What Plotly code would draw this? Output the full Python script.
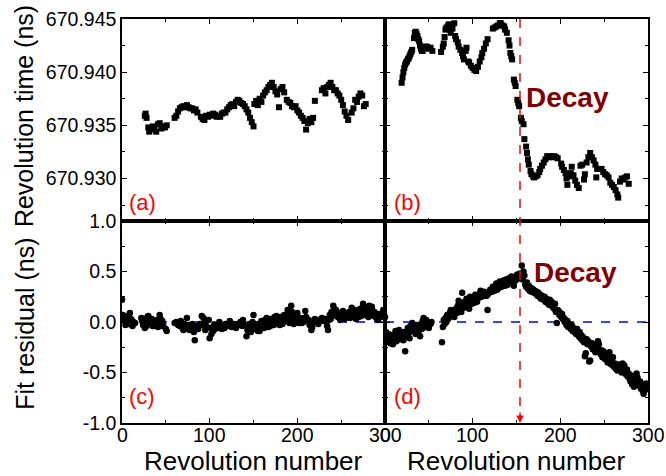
import plotly.graph_objects as go

# ---------------- data ----------------
a_x = [26,27,28,30,31,33,35,37,39,41,43,45,47,49,51,
       60,62,64,66,68,70,72,74,76,78,80,82,84,86,
       90,92,94,96,98,100,102,104,106,108,110,112,114,116,118,120,
       122,124,126,128,130,132,134,136,138,140,142,144,146,148,150,
       151,153,155,157,159,161,163,165,167,169,171,173,175,177,179,181,183,185,
       188,190,192,194,196,198,200,202,204,206,208,210,212,214,216,218,220,
       228,230,232,234,236,238,240,242,244,246,248,250,252,254,256,258,
       262,264,266,268,270,272,274,276,278]
a_y = [670.9359,670.9361,670.9357,670.9348,670.9344,670.9346,670.9349,670.9347,670.9344,670.9351,670.9352,670.9347,670.9349,670.9348,670.9350,
       670.9357,670.9359,670.9363,670.9366,670.9367,670.9368,670.9367,670.9369,670.9367,670.9366,670.9366,670.9364,670.9365,670.9362,
       670.9358,670.9356,670.9355,670.9359,670.9358,670.9360,670.9359,670.9361,670.9360,670.9358,670.9359,670.9358,670.9361,670.9362,670.9362,670.9365,
       670.9367,670.9369,670.9370,670.9368,670.9372,670.9374,670.9373,670.9371,670.9370,670.9368,670.9365,670.9362,670.9357,670.9353,670.9349,
       670.9370,670.9373,670.9369,670.9375,670.9372,670.9378,670.9381,670.9383,670.9386,670.9388,670.9390,670.9386,670.9382,670.9379,670.9367,670.9384,670.9386,670.9381,
       670.9374,670.9372,670.9371,670.9368,670.9367,670.9368,670.9364,670.9362,670.9359,670.9357,670.9354,670.9346,670.9352,670.9356,670.9353,670.9357,670.9373,
       670.9383,670.9385,670.9380,670.9386,670.9388,670.9390,670.9386,670.9383,670.9383,670.9380,670.9378,670.9374,670.9369,670.9363,670.9359,670.9355,
       670.9362,670.9366,670.9374,670.9372,670.9377,670.9380,670.9378,670.9368,670.9370]

b_x = [19,20,21,22,23,24,25,26,27,28,29,30,31,33,34,35,36,37,38,39,40,41,42,43,44,46,48,50,52,54,
       64,66,67,68,69,70,72,73,74,75,77,79,80,81,83,84,86,88,89,90,92,93,95,96,98,100,102,104,106,108,110,111,113,115,117,
       123,125,127,129,131,132,134,136,137,139,141,142,143,144,145,
       147,148,149,151,152,153,155,156,158,159,161,162,163,164,166,167,169,170,172,174,176,177,179,181,183,185,187,189,191,193,195,197,
       201,202,204,206,207,208,210,212,213,215,217,219,221,223,225,227,228,230,232,234,236,238,240,241,242,
       247,249,251,253,255,257,259,261,263,265,266,268,270,272,274,276,278]
b_y = [670.9390,670.9395,670.9400,670.9404,670.9407,670.9409,670.9410,670.9412,670.9413,670.9415,670.9417,670.9419,670.9421,670.9432,670.9437,670.9438,670.9436,670.9434,670.9431,670.9429,670.9425,670.9422,670.9420,670.9420,670.9423,670.9424,670.9424,670.9422,670.9423,670.9420,
       670.9419,670.9424,670.9427,670.9433,670.9440,670.9442,670.9444,670.9445,670.9440,670.9437,670.9441,670.9446,670.9434,670.9431,670.9428,670.9424,670.9421,670.9418,670.9415,670.9412,670.9420,670.9423,670.9410,670.9409,670.9406,670.9404,670.9402,670.9401,670.9405,670.9410,670.9414,670.9418,670.9422,670.9427,670.9431,
       670.9441,670.9442,670.9443,670.9444,670.9446,670.9446,670.9444,670.9443,670.9440,670.9437,670.9430,670.9425,670.9418,670.9415,670.9412,
       670.9393,670.9390,670.9387,670.9374,670.9371,670.9368,670.9357,670.9354,670.9351,670.9337,670.9330,670.9324,670.9318,670.9313,670.9307,670.9304,670.9302,670.9301,670.9302,670.9303,670.9306,670.9309,670.9312,670.9315,670.9318,670.9321,670.9320,670.9321,670.9320,670.9321,670.9320,670.9319,
       670.9314,670.9311,670.9308,670.9305,670.9300,670.9294,670.9302,670.9305,670.9311,670.9303,670.9298,670.9294,670.9291,670.9312,670.9313,670.9299,670.9304,670.9315,670.9320,670.9324,670.9320,670.9317,670.9313,670.9301,670.9309,
       670.9309,670.9306,670.9304,670.9303,670.9301,670.9296,670.9294,670.9292,670.9289,670.9285,670.9282,670.9297,670.9300,670.9299,670.9301,670.9302,670.9295]

c_x = [0,1,2,3,4,5,6,7,8,9,10,11,12,13,14,15,
       22,23,24,25,26,27,28,29,30,31,32,33,34,35,36,37,38,39,40,41,42,43,44,45,46,47,50,51,
       60,62,64,66,67,68,70,71,73,74,75,77,78,80,82,83,84,85,87,89,91,92,93,95,96,97,99,100,101,102,104,105,106,108,110,111,112,114,115,117,118,120,122,123,125,127,128,130,132,133,135,137,138,140,
       142,143,144,145,146,147,148,149,150,151,152,153,154,155,156,157,158,159,160,161,162,163,164,165,166,167,168,169,170,171,172,173,174,175,176,177,178,179,180,181,182,183,184,185,186,188,189,190,
       191,192,193,194,195,196,197,198,199,200,201,202,204,205,206,207,209,210,211,213,214,216,217,218,220,222,224,226,228,230,232,234,235,236,237,238,239,240,
       241,242,243,244,245,246,247,248,249,250,251,252,253,254,256,258,259,260,261,262,263,264,265,266,267,268,269,270,271,272,273,275,276,277,278,279,280,
       281,282,283,284,285,286,287,288,290,292,293,295,296,298]
c_y = [0.22,0.07,0.02,0.05,-0.03,0.04,0.01,0.06,-0.02,0.09,0.03,0.02,-0.04,0.00,-0.01,-0.01,
       0.04,0.01,-0.03,0.03,-0.06,0.00,-0.04,0.05,0.06,0.02,0.01,-0.02,0.03,-0.04,-0.04,0.00,-0.02,-0.01,0.02,-0.05,0.00,0.07,0.03,-0.04,0.01,-0.03,-0.07,-0.09,
       -0.01,0.00,-0.03,-0.04,0.01,-0.05,-0.08,-0.02,-0.06,0.04,-0.03,-0.08,-0.05,-0.02,-0.10,-0.18,-0.06,-0.04,-0.07,-0.02,0.06,-0.03,0.04,-0.08,0.01,-0.05,0.02,-0.16,-0.06,-0.12,-0.09,-0.03,-0.07,-0.04,-0.06,0.00,-0.03,-0.07,-0.05,-0.06,-0.02,-0.04,-0.03,0.01,-0.05,-0.04,-0.02,-0.06,-0.03,-0.02,0.00,-0.04,0.02,-0.03,
       -0.14,-0.08,-0.05,-0.02,-0.08,-0.10,-0.04,0.00,0.07,-0.06,-0.03,-0.07,-0.04,-0.09,-0.02,-0.09,-0.05,0.01,-0.03,-0.01,-0.06,0.02,-0.04,0.04,-0.02,-0.05,0.00,-0.04,0.03,-0.01,0.02,-0.03,0.05,0.00,0.06,-0.02,0.03,0.01,-0.03,0.05,0.02,-0.02,0.04,0.07,0.01,0.03,0.12,0.09,
       -0.01,0.05,0.16,0.10,0.02,-0.02,0.01,0.06,0.03,0.09,0.00,-0.01,0.04,-0.01,0.03,0.00,0.11,0.05,0.02,0.02,-0.03,-0.08,-0.05,0.00,0.03,0.01,-0.02,0.02,0.04,0.01,0.03,-0.04,-0.08,0.02,0.07,0.03,0.10,0.06,
       0.16,0.13,0.08,0.12,0.10,0.05,0.08,0.04,0.02,0.09,0.06,0.11,0.08,0.03,0.07,0.06,0.10,0.04,0.09,0.14,0.05,0.08,0.07,0.12,0.03,0.09,0.11,0.05,0.08,0.13,0.06,0.18,0.10,0.14,0.07,0.09,0.12,
       0.05,0.16,0.13,0.08,0.15,0.11,0.06,0.10,0.04,0.02,0.08,0.05,0.07,0.12]

d_x = [0,1,2,3,4,5,6,7,8,9,10,11,12,13,14,15,16,17,18,19,20,21,22,23,24,25,26,27,28,29,30,31,32,33,34,35,36,37,38,39,40,41,42,43,44,45,46,47,48,49,50,52,53,
       65,66,67,68,69,70,71,72,73,74,75,76,77,78,79,80,81,82,83,84,85,86,87,88,89,90,91,92,93,94,95,96,97,98,99,100,101,102,103,104,105,106,107,108,109,110,112,113,114,115,116,117,118,120,
       122,123,124,125,126,127,128,129,130,131,132,133,134,135,136,137,138,139,140,141,142,143,144,145,146,147,148,149,150,151,152,153,154,156,157,158,159,
       160,161,162,163,164,165,166,167,168,169,170,171,172,173,174,175,176,177,178,179,180,181,182,183,184,185,186,187,188,189,190,191,192,193,194,195,196,197,198,199,
       200,201,202,203,204,205,206,207,208,209,210,211,212,213,214,215,216,217,218,219,220,221,222,223,224,225,226,227,228,229,230,231,232,233,234,235,236,237,238,239,
       240,241,242,243,244,246,247,248,249,250,251,252,253,254,255,256,257,258,259,260,261,262,263,264,265,266,267,268,269,270,271,272,273,274,275,276,277,278,279,
       280,281,282,283,284,285,286,287,288,289,290,291,292,293,294,295,296,297,298,299]
d_y = [0.05,-0.10,-0.14,-0.17,-0.12,-0.20,-0.21,-0.16,-0.13,-0.22,-0.18,-0.15,-0.09,-0.19,-0.11,-0.14,-0.08,-0.17,-0.16,-0.12,-0.15,-0.18,-0.10,-0.29,-0.13,-0.14,-0.06,-0.11,-0.16,-0.04,-0.08,-0.01,-0.09,-0.08,-0.05,-0.12,-0.03,-0.04,-0.10,-0.06,-0.14,-0.02,-0.07,0.01,0.04,-0.03,-0.05,0.02,-0.01,-0.04,-0.06,-0.02,0.00,
       -0.20,-0.05,0.02,-0.02,0.04,0.00,0.07,0.03,0.05,0.09,0.12,0.08,0.06,0.11,0.05,0.10,0.13,0.09,0.16,0.21,0.12,0.15,0.10,0.29,0.18,0.14,0.20,0.16,0.23,0.17,0.19,0.13,0.25,0.22,0.18,0.21,0.24,0.19,0.27,0.23,0.20,0.26,0.24,0.28,0.31,0.25,0.27,0.30,0.26,0.29,0.26,0.12,0.28,0.32,
       0.30,0.35,0.33,0.31,0.35,0.38,0.32,0.36,0.34,0.40,0.39,0.35,0.37,0.41,0.38,0.36,0.42,0.40,0.37,0.43,0.39,0.41,0.45,0.38,0.42,0.36,0.44,0.41,0.46,0.47,0.43,0.45,0.48,0.56,0.42,0.50,0.46,
       0.37,0.35,0.39,0.33,0.36,0.31,0.34,0.30,0.33,0.32,0.29,0.31,0.28,0.30,0.26,0.29,0.25,0.27,0.23,0.26,0.24,0.22,0.25,0.20,0.23,0.19,0.21,0.17,0.22,0.18,0.20,0.15,0.16,0.13,0.18,0.10,-0.01,0.12,0.11,0.07,
       0.09,0.05,0.08,0.03,0.04,0.00,0.02,-0.03,0.01,-0.05,-0.02,-0.04,-0.07,-0.03,-0.09,-0.06,-0.10,-0.08,-0.12,-0.07,-0.11,-0.14,-0.10,-0.16,-0.13,-0.18,-0.15,-0.20,-0.34,-0.31,-0.17,-0.22,-0.19,-0.39,-0.38,-0.24,-0.21,-0.27,-0.26,-0.23,
       -0.30,-0.28,-0.25,-0.19,-0.22,-0.32,-0.28,-0.35,-0.29,-0.33,-0.37,-0.31,-0.34,-0.40,-0.36,-0.30,-0.38,-0.42,-0.39,-0.35,-0.44,-0.41,-0.46,-0.43,-0.48,-0.45,-0.42,-0.47,-0.44,-0.50,-0.41,-0.46,-0.43,-0.49,-0.52,-0.47,-0.54,-0.51,-0.56,
       -0.59,-0.53,-0.62,-0.57,-0.64,-0.60,-0.58,-0.51,-0.55,-0.61,-0.63,-0.59,-0.66,-0.62,-0.68,-0.71,-0.64,-0.67,-0.61,-0.65]

x_ticks = [0, 100, 200, 300]
x_ticktext = ["0", "100", "200", "300"]
top_ticks = [670.930, 670.935, 670.940, 670.945]
top_ticktext = ["670.930", "670.935", "670.940", "670.945"]
bot_ticks = [-1.0, -0.5, 0.0, 0.5, 1.0]
bot_ticktext = ["-1.0", "-0.5", "0.0", "0.5", "1.0"]
decay_rev = 154

FONT = "Arial, Liberation Sans, sans-serif"
TICKSIZE = 19.5

fig = go.Figure()
sq = dict(symbol="square", size=6, color="black")
ci = dict(symbol="circle", size=6.5, color="black")
fig.add_trace(go.Scatter(x=a_x, y=a_y, mode="markers", marker=sq, xaxis="x", yaxis="y"))
fig.add_trace(go.Scatter(x=b_x, y=b_y, mode="markers", marker=sq, xaxis="x2", yaxis="y2"))
fig.add_trace(go.Scatter(x=c_x, y=c_y, mode="markers", marker=ci, xaxis="x3", yaxis="y3"))
fig.add_trace(go.Scatter(x=d_x, y=d_y, mode="markers", marker=ci, xaxis="x4", yaxis="y4"))

def ax(**kw):
    base = dict(showline=True, linecolor="black", linewidth=1.5, mirror="ticks",
                ticks="inside", ticklen=5, tickwidth=1.2, tickcolor="black",
                showgrid=False, zeroline=False,
                tickfont=dict(family=FONT, size=TICKSIZE, color="black"))
    base.update(kw)
    return base

xmin = dict(ticks="inside", ticklen=3, tickcolor="black", dtick=50, tick0=0)
fig.update_layout(
    xaxis=ax(domain=[0, 0.5], range=[0, 300], anchor="y", tickvals=x_ticks, showticklabels=False, minor=xmin),
    xaxis2=ax(domain=[0.5, 1], range=[0, 300], anchor="y2", tickvals=x_ticks, showticklabels=False, minor=xmin),
    xaxis3=ax(domain=[0, 0.5], range=[0, 300], anchor="y3", tickvals=x_ticks, showticklabels=False, minor=xmin),
    xaxis4=ax(domain=[0.5, 1], range=[0, 300], anchor="y4", tickvals=x_ticks, showticklabels=False, minor=xmin),
    yaxis=ax(domain=[0.5, 1], range=[670.926, 670.945], anchor="x", tickvals=top_ticks, ticktext=top_ticktext,
             minor=dict(ticks="inside", ticklen=3, tickcolor="black", dtick=0.0025, tick0=670.930)),
    yaxis2=ax(domain=[0.5, 1], range=[670.926, 670.945], anchor="x2", tickvals=top_ticks, showticklabels=False,
              minor=dict(ticks="inside", ticklen=3, tickcolor="black", dtick=0.0025, tick0=670.930)),
    yaxis3=ax(domain=[0, 0.5], range=[-1, 1], anchor="x3", tickvals=bot_ticks, ticktext=bot_ticktext,
              minor=dict(ticks="inside", ticklen=3, tickcolor="black", dtick=0.25, tick0=0)),
    yaxis4=ax(domain=[0, 0.5], range=[-1, 1], anchor="x4", tickvals=bot_ticks, showticklabels=False,
              minor=dict(ticks="inside", ticklen=3, tickcolor="black", dtick=0.25, tick0=0)),
    width=666, height=476,
    margin=dict(l=122, r=18, t=19, b=53, autoexpand=False),
    paper_bgcolor="white", plot_bgcolor="white",
    showlegend=False,
)

# x tick labels of the bottom panels, placed on the axes' own scales
for xr in ["x3", "x4"]:
    for v, t in zip(x_ticks, x_ticktext):
        fig.add_annotation(text=t, xref=xr, yref="paper", x=v, y=-0.029, showarrow=False,
                           font=dict(family=FONT, size=TICKSIZE, color="black"),
                           xanchor="center", yanchor="middle")

# reference lines
for yr in ["y3", "y4"]:
    xr = "x3 domain" if yr == "y3" else "x4 domain"
    fig.add_shape(type="line", xref=xr, yref=yr, x0=0, x1=1, y0=0, y1=0,
                  line=dict(color="blue", width=1.5, dash="dash"), layer="below")
fig.add_shape(type="line", xref="x4", yref="paper", x0=decay_rev, x1=decay_rev, y0=1, y1=0.01,
              line=dict(color="red", width=1.5, dash="dash"))
fig.add_annotation(x=decay_rev, y=-1, xref="x4", yref="y4", ax=0, ay=-12, axref="pixel", ayref="pixel",
                   text="", showarrow=True, arrowhead=2, arrowsize=1, arrowwidth=1.5, arrowcolor="red")

# titles
tfont = dict(family=FONT, size=25, color="black")
fig.add_annotation(text="Revolution time (ns)", xref="paper", yref="paper", x=-0.186, y=0.76,
                   textangle=-90, showarrow=False, font=tfont, xanchor="center", yanchor="middle")
fig.add_annotation(text="Fit residual (ns)", xref="paper", yref="paper", x=-0.186, y=0.246,
                   textangle=-90, showarrow=False, font=tfont, xanchor="center", yanchor="middle")
xfont = dict(family=FONT, size=26, color="black")
for xp in [0.25, 0.75]:
    fig.add_annotation(text="Revolution number", xref="paper", yref="paper", x=xp, y=-0.0933,
                       showarrow=False, font=xfont, xanchor="center", yanchor="middle")

# panel labels
lfont = dict(family=FONT, size=22, color="red")
for txt, xp, yp in [("(a)", 0.010, 0.545), ("(b)", 0.5136, 0.545), ("(c)", 0.010, 0.065), ("(d)", 0.5136, 0.065)]:
    fig.add_annotation(text=txt, xref="paper", yref="paper", x=xp, y=yp, showarrow=False,
                       font=lfont, xanchor="left", yanchor="middle")

dfont = dict(family=FONT, size=28, color="#800000")
fig.add_annotation(text="<b>Decay</b>", xref="paper", yref="paper", x=0.847, y=0.805, showarrow=False,
                   font=dfont, xanchor="center", yanchor="middle")
fig.add_annotation(text="<b>Decay</b>", xref="paper", yref="paper", x=0.862, y=0.372, showarrow=False,
                   font=dfont, xanchor="center", yanchor="middle")

fig.write_html("out.html", config={"displayModeBar": False},
               post_script="document.body.style.margin='0';document.body.style.overflow='hidden';"
                           "document.documentElement.style.overflow='hidden';")
